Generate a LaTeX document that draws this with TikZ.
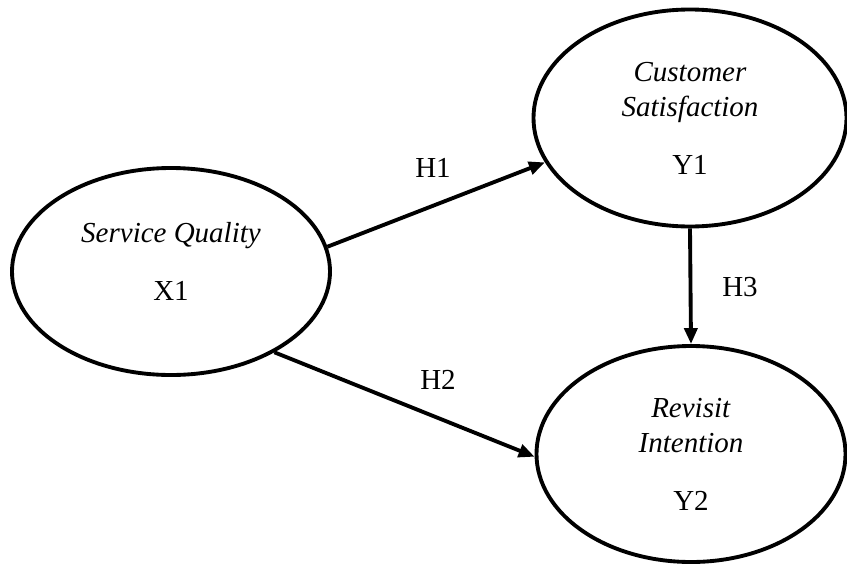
\documentclass[tikz,border=0pt]{standalone}
\usepackage{fontspec}
\setmainfont{Liberation Serif}
\usetikzlibrary{shapes.geometric,arrows.meta}

\begin{document}
\begin{tikzpicture}[font=\fontsize{16.5}{20}\selectfont,
  var/.style={draw=black, line width=2.2pt, ellipse, inner sep=0pt,
              align=center},
  path/.style={line width=2.2pt, -{Triangle[length=0.32cm,width=0.26cm]}}
]
\useasboundingbox (0,0) rectangle (16.94,-11.28);
% latent variables
\node[var, minimum width=6.36cm, minimum height=4.14cm] (sq) at (3.42,-5.43)
  {\textit{Service Quality}\\[0.45cm]X1\\[-0.3cm]\mbox{}};
\node[var, minimum width=6.26cm, minimum height=4.34cm] (cs) at (13.8,-2.36)
  {\textit{Customer}\\\textit{Satisfaction}\\[0.45cm]Y1};
\node[var, minimum width=6.18cm, minimum height=4.32cm] (ri) at (13.82,-9.08)
  {\textit{Revisit}\\\textit{Intention}\\[0.45cm]Y2};
% hypotheses
\draw[path] (sq.9) -- (cs.197);
\draw[path] (sq.-38) -- (ri.181);
\draw[path] (cs.south) -- (ri.north);
\node (h1) at (8.66,-3.36) {H1};
\node (h2) at (8.76,-7.6) {H2};
\node (h3) at (14.8,-5.74) {H3};
\end{tikzpicture}
\end{document}
